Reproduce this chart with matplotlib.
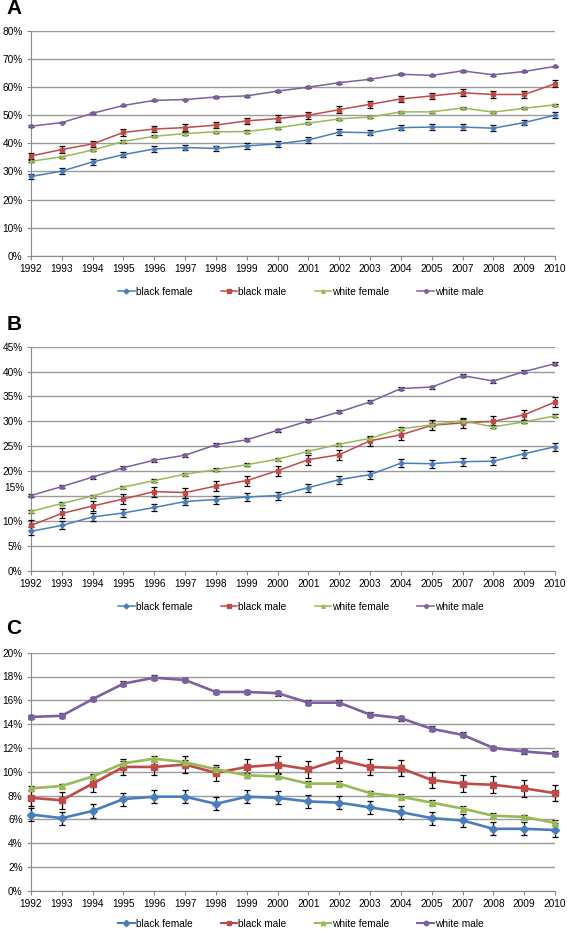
import matplotlib
matplotlib.use("Agg")
import matplotlib.pyplot as plt
from matplotlib.lines import Line2D
import numpy as np

plt.rcParams['font.family'] = ['Liberation Sans', 'DejaVu Sans']

years = ['1992', '1993', '1994', '1995', '1996', '1997', '1998', '1999', '2000',
         '2001', '2002', '2003', '2004', '2005', '2007', '2008', '2009', '2010']
groups = ['black female', 'black male', 'white female', 'white male']

# panel A
a_bf = [28.2, 30.1, 33.4, 36.0, 38.0, 38.5, 38.2, 39.1, 39.8, 41.2, 44.0, 43.8, 45.6, 45.8, 45.8, 45.4, 47.4, 50.0]
a_bm = [35.5, 37.8, 39.8, 43.9, 45.1, 45.6, 46.5, 48.0, 48.8, 50.0, 52.0, 53.9, 55.8, 56.9, 58.0, 57.4, 57.4, 61.2]
a_wf = [33.6, 35.2, 37.6, 40.7, 42.5, 43.5, 44.1, 44.2, 45.5, 47.2, 48.7, 49.4, 51.2, 51.2, 52.6, 51.1, 52.5, 53.7]
a_wm = [46.1, 47.4, 50.7, 53.5, 55.3, 55.6, 56.5, 56.9, 58.6, 60.0, 61.6, 62.8, 64.6, 64.2, 65.8, 64.4, 65.6, 67.4]
a_err = [1.0, 1.2, 0.4, 0.3]

# panel B
b_bf = [7.9, 9.1, 10.8, 11.6, 12.7, 13.9, 14.3, 14.8, 15.1, 16.7, 18.3, 19.3, 21.6, 21.5, 21.9, 22.0, 23.5, 24.9]
b_bm = [9.1, 11.5, 13.0, 14.4, 15.9, 15.7, 17.0, 18.1, 20.1, 22.3, 23.3, 26.1, 27.3, 29.2, 29.7, 30.0, 31.3, 33.9]
b_wf = [11.9, 13.5, 15.0, 16.8, 18.1, 19.4, 20.3, 21.3, 22.4, 24.0, 25.4, 26.6, 28.5, 29.3, 30.1, 28.9, 29.9, 31.1]
b_wm = [15.1, 16.9, 18.8, 20.7, 22.2, 23.2, 25.3, 26.3, 28.2, 30.1, 31.9, 33.9, 36.6, 36.9, 39.2, 38.1, 40.0, 41.6]
b_err = [0.8, 1.0, 0.3, 0.3]

# panel C
c_bf = [6.4, 6.1, 6.7, 7.7, 7.9, 7.9, 7.3, 7.9, 7.8, 7.5, 7.4, 7.0, 6.6, 6.1, 5.9, 5.2, 5.2, 5.1]
c_bm = [7.8, 7.6, 9.0, 10.4, 10.4, 10.6, 9.9, 10.4, 10.6, 10.2, 11.0, 10.4, 10.3, 9.3, 9.0, 8.9, 8.6, 8.2]
c_wf = [8.6, 8.8, 9.6, 10.7, 11.1, 10.8, 10.2, 9.7, 9.6, 9.0, 9.0, 8.2, 7.9, 7.4, 6.9, 6.3, 6.2, 5.7]
c_wm = [14.6, 14.7, 16.1, 17.4, 17.9, 17.7, 16.7, 16.7, 16.6, 15.8, 15.8, 14.8, 14.5, 13.6, 13.1, 12.0, 11.7, 11.5]
c_err = [0.55, 0.7, 0.2, 0.2]

colors = ['#4A7EBB', '#BE4B48', '#98B954', '#7D60A0']
markers = ['D', 's', '^', 'o']

fig = plt.figure(figsize=(5.67, 9.31), dpi=100)
W, H = 567, 931


def add_ax(top, bottom, left=31, right=555):
    return fig.add_axes([left / W, 1 - bottom / H, (right - left) / W, (bottom - top) / H])


def draw(ax, series, errs, ymax, ystep, lw, ms, label, leg_gap):
    x = np.arange(len(years))
    handles = []
    for s, e, c, m, g in zip(series, errs, colors, markers, groups):
        ax.errorbar(x, s, yerr=e, color=c, marker=m, markersize=ms, lw=lw,
                    ecolor='black', elinewidth=0.9, capsize=2, capthick=0.9,
                    clip_on=False, zorder=3)
        handles.append(Line2D([], [], color=c, marker=m, markersize=min(ms, 3.2),
                              lw=min(lw, 1.5), label=g))
    ax.set_xlim(0, len(years) - 1)
    ax.set_ylim(0, ymax)
    ax.set_xticks(x)
    ax.set_xticklabels(years)
    ticks = np.arange(0, ymax + 0.01, ystep)
    ax.set_yticks(ticks)
    ax.set_yticklabels(['%d%%' % t for t in ticks])
    ax.yaxis.grid(True, color='#9a9a9a', lw=1)
    ax.set_axisbelow(True)
    for sp in ['top', 'right']:
        ax.spines[sp].set_visible(False)
    for sp in ['left', 'bottom']:
        ax.spines[sp].set_color('#8a8a8a')
    ax.tick_params(axis='both', labelsize=7.3, length=3, color='#8a8a8a', pad=3)
    ax.text(-0.047, 1.1, label, transform=ax.transAxes, fontsize=15,
            fontweight='bold', ha='left', va='center')
    h = ax.get_position().height * H
    ax.legend(handles=handles, loc='upper center', bbox_to_anchor=(0.515, -leg_gap / h),
              ncol=4, frameon=False, fontsize=7.3, handlelength=1.6, borderpad=0.2,
              handletextpad=0.1, columnspacing=2.8)


axA = add_ax(31, 255.7)
draw(axA, [a_bf, a_bm, a_wf, a_wm], a_err, 80, 10, 1.1, 2.5, 'A', 24)

axB = add_ax(346.7, 570.7)
draw(axB, [b_bf, b_bm, b_wf, b_wm], b_err, 45, 5, 1.1, 2.5, 'B', 24)
# the 15% label sits above its gridline in the original
labs = ['%d%%' % t for t in np.arange(0, 46, 5)]
labs[3] = ''
axB.set_yticklabels(labs)
axB.text(-0.013, 16.7, '15%', transform=axB.get_yaxis_transform(),
         ha='right', va='center', fontsize=7.3)

axC = add_ax(652.7, 890.7)
draw(axC, [c_bf, c_bm, c_wf, c_wm], c_err, 20, 2, 1.9, 4, 'C', 21)

fig.savefig('out.png', dpi=100)
